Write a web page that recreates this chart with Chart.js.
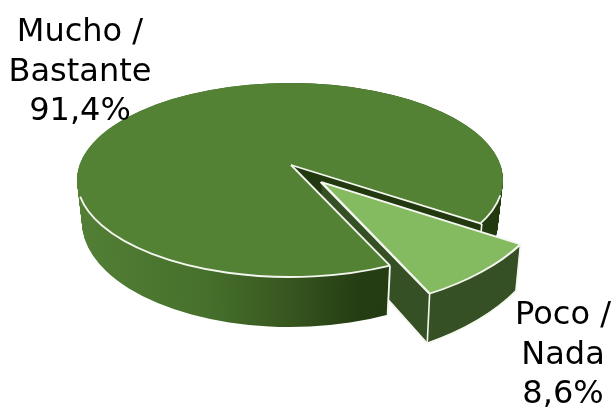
<!DOCTYPE html>
<html>
<head>
<meta charset="utf-8">
<script src="https://cdn.jsdelivr.net/npm/chart.js@4/dist/chart.umd.js"></script>
<style>
  html, body { margin: 0; padding: 0; background: #fff; }
  canvas { display: block; }
</style>
</head>
<body>
<canvas id="myPieChart" width="613" height="407"></canvas>
<script>
const categories = ["Mucho / Bastante", "Poco / Nada"];
const values = [91.4, 8.6];
const sliceColors = ["#548235", "#84ba60"];
const labelLines = [
  ["Mucho /", "Bastante", "91,4%"],
  ["Poco /", "Nada", "8,6%"],
];

// top and bottom faces of the fake 3d disc, in screen pixels
const topFace = { x: 290, y: 180, rx: 213, ry: 97 };
const bottomFace = { x: 290, y: 222, rx: 208, ry: 105 };
const notchLook = { shift: { x: 1, y: -15 }, spread: 1.14 };
const wedgeLook = { shift: { x: -8, y: -35 }, move: { x: 39, y: 37 }, spread: 1.14, skew: -0.08 };
const WIDEN = (2 * Math.PI) / 180; // gap looks wider than the slice because of perspective
const EDGE = "#f4f7ef";

function faceAt(t) {
  return {
    x: topFace.x + (bottomFace.x - topFace.x) * t,
    y: topFace.y + (bottomFace.y - topFace.y) * t,
    rx: topFace.rx + (bottomFace.rx - topFace.rx) * t,
    ry: topFace.ry + (bottomFace.ry - topFace.ry) * t,
  };
}

// matrix from unit pie coords to the screen; shift moves the apex but keeps the rim
function frame(t, midAngle, look = {}) {
  const f = faceAt(t);
  const mx = Math.cos(midAngle);
  const my = Math.sin(midAngle);
  const dx = look.shift ? look.shift.x : 0;
  const dy = look.shift ? look.shift.y : 0;
  let a = f.rx - dx * mx;
  let b = -dy * mx;
  let c = -dx * my;
  let d = f.ry - dy * my;
  if (look.spread) {
    // stretch across the middle of the slice
    const k = look.spread - 1;
    const vx = -my;
    const vy = mx;
    const a0 = a, b0 = b, c0 = c, d0 = d;
    a = a0 + k * vx * (a0 * vx + c0 * vy);
    b = b0 + k * vx * (b0 * vx + d0 * vy);
    c = c0 + k * vy * (a0 * vx + c0 * vy);
    d = d0 + k * vy * (b0 * vx + d0 * vy);
  }
  if (look.skew) {
    b += look.skew * a;
    d += look.skew * c;
  }
  return {
    a, b, c, d,
    e: f.x + dx + (look.move ? look.move.x : 0),
    f: f.y + dy + (look.move ? look.move.y : 0),
  };
}

function project(m, angle, r) {
  const ux = Math.cos(angle) * r;
  const uy = Math.sin(angle) * r;
  return { x: m.a * ux + m.c * uy + m.e, y: m.b * ux + m.d * uy + m.f };
}

function drawArc(ctx, arc, m, fill, overrides, border) {
  const el = new Chart.ArcElement({
    x: arc.x,
    y: arc.y,
    startAngle: arc.startAngle,
    endAngle: arc.endAngle,
    circumference: arc.circumference,
    innerRadius: 0,
    outerRadius: arc.outerRadius,
    options: {
      backgroundColor: fill,
      borderColor: border ? border.color : "transparent",
      borderWidth: border ? border.width : 0,
      borderAlign: "center",
      borderRadius: 0,
      offset: 0,
      spacing: 0,
      circular: true,
    },
    ...overrides,
  });
  ctx.save();
  ctx.transform(m.a, m.b, m.c, m.d, m.e, m.f);
  ctx.scale(1 / arc.outerRadius, 1 / arc.outerRadius);
  ctx.translate(-arc.x, -arc.y);
  el.draw(ctx);
  ctx.restore();
}

function line(ctx, p, q) {
  ctx.beginPath();
  ctx.moveTo(p.x, p.y);
  ctx.lineTo(q.x, q.y);
  ctx.stroke();
}

const pie3d = {
  id: "pie3d",
  beforeDatasetDraw(chart) {
    const ctx = chart.ctx;
    const big = chart.getDatasetMeta(0).data[0];
    const small = chart.getDatasetMeta(0).data[1];
    const r = big.outerRadius;
    const mid = small.startAngle + small.circumference / 2;
    const a1 = small.startAngle;
    const a2 = small.endAngle;
    const wallStart = big.startAngle + WIDEN;

    // outer wall of the big slice
    const wall = ctx.createLinearGradient(big.x - r, 0, big.x + r, 0);
    wall.addColorStop(0, "#527f35");
    wall.addColorStop(0.3, "#46702c");
    wall.addColorStop(0.5, "#37561f");
    wall.addColorStop(0.66, "#253d12");
    wall.addColorStop(1, "#223a10");
    const wallAngles = { startAngle: wallStart, circumference: big.circumference - WIDEN };
    for (let i = 60; i >= 0; i--) {
      drawArc(ctx, big, frame(i / 60, mid), wall, wallAngles);
    }

    // top of the disc, then the hole left by the pulled out slice
    const top = frame(0, mid);
    drawArc(ctx, big, top, sliceColors[0], {
      startAngle: 0,
      endAngle: Math.PI * 2,
      circumference: Math.PI * 2,
    });
    const notch = frame(0, mid, notchLook);
    drawArc(ctx, small, notch, "#22380f");

    const apex = project(notch, 0, 0);
    const r1 = project(notch, a1, 1);
    const r2 = project(top, wallStart, 1);
    const r1Low = project(frame(1, mid, notchLook), a1, 1);
    const r2Low = project(frame(1, mid), wallStart, 1);
    ctx.strokeStyle = EDGE;
    ctx.lineWidth = 1.6;
    line(ctx, r1, r1Low);

    // pulled out slice, kept behind the front of the big one
    ctx.save();
    ctx.beginPath();
    ctx.moveTo(apex.x, apex.y);
    ctx.lineTo(chart.width, apex.y);
    ctx.lineTo(chart.width, chart.height);
    ctx.lineTo(r2Low.x, chart.height);
    ctx.lineTo(r2Low.x, r2Low.y);
    ctx.lineTo(r2.x, r2.y);
    ctx.closePath();
    ctx.clip();
    for (let i = 60; i >= 0; i--) {
      const m = frame(i / 60, mid, wedgeLook);
      if (i === 60) {
        drawArc(ctx, small, m, "#375126", null, { color: EDGE, width: 2.5 });
      } else {
        drawArc(ctx, small, m, "#375126");
      }
    }
    const wedgeTop = frame(0, mid, wedgeLook);
    const wedgeLow = frame(1, mid, wedgeLook);
    drawArc(ctx, small, wedgeTop, sliceColors[1], null, { color: EDGE, width: 2.5 });
    ctx.strokeStyle = EDGE;
    ctx.lineWidth = 1.6;
    line(ctx, project(wedgeTop, a2, 1), project(wedgeLow, a2, 1));
    line(ctx, project(wedgeTop, a1, 1), project(wedgeLow, a1, 1));
    ctx.restore();

    // white edges of the big slice
    ctx.strokeStyle = EDGE;
    ctx.lineWidth = 1.8;
    line(ctx, apex, r1);
    line(ctx, apex, r2);
    line(ctx, r2, r2Low);
    ctx.beginPath();
    ctx.ellipse(topFace.x, topFace.y, topFace.rx, topFace.ry, 0, wallStart, Math.PI * 0.945);
    ctx.stroke();
    ctx.beginPath();
    ctx.ellipse(topFace.x, topFace.y, topFace.rx, topFace.ry, 0, Math.PI * 0.05, a1 - WIDEN - Math.PI * 2);
    ctx.stroke();

    // labels
    ctx.fillStyle = "#000";
    ctx.font = "32px 'DejaVu Sans'";
    ctx.textAlign = "center";
    ctx.textBaseline = "middle";
    labelLines[0].forEach((s, i) => ctx.fillText(s, 80, 33 + i * 39.5));
    labelLines[1].forEach((s, i) => ctx.fillText(s, 563, 316 + i * 39.5));
    return false;
  },
};

new Chart(document.getElementById("myPieChart").getContext("2d"), {
  type: "pie",
  data: {
    labels: categories,
    datasets: [{ data: values, backgroundColor: sliceColors, borderWidth: 0 }],
  },
  options: {
    responsive: false,
    animation: false,
    rotation: 150,
    plugins: {
      legend: { display: false },
      tooltip: { enabled: false },
    },
  },
  plugins: [pie3d],
});
</script>
</body>
</html>
